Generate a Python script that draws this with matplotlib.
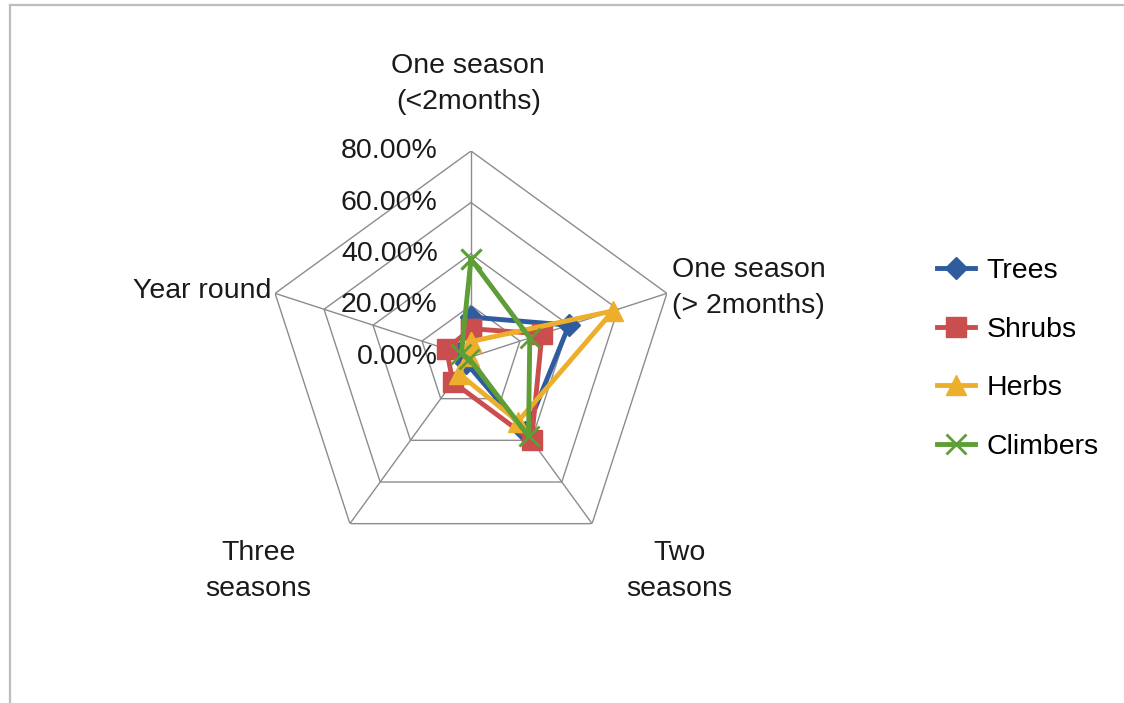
import numpy as np
import matplotlib
matplotlib.use("Agg")
import matplotlib.pyplot as plt
from matplotlib.lines import Line2D

plt.rcParams['font.family'] = ['Liberation Sans', 'DejaVu Sans']

# Flowering duration categories (clockwise from the top)
categories = ["One season\n(<2months)", "One season\n(> 2months)", "Two\nseasons",
              "Three\nseasons", "Year round"]

# Share of species in each duration class (%)
trees = [15.5, 40.0, 36.0, 3.0, 5.0]
shrubs = [11.0, 29.0, 40.0, 12.0, 10.0]
herbs = [6.0, 58.0, 31.0, 8.0, 1.0]
climbers = [38.0, 24.0, 38.0, 1.0, 4.0]

series_names = ["Trees", "Shrubs", "Herbs", "Climbers"]
ring_values = [0, 20, 40, 60, 80]

W, H = 1124, 703
fig = plt.figure(figsize=(W / 100, H / 100), dpi=100)
fig.patch.set_facecolor("white")

# light frame along the top and left edges
fig.add_artist(Line2D([10 / W, 10 / W], [0, 1 - 5 / H], transform=fig.transFigure,
                      color="#BDBDBD", lw=1.6))
fig.add_artist(Line2D([10 / W, 1], [1 - 5 / H, 1 - 5 / H], transform=fig.transFigure,
                      color="#BDBDBD", lw=1.6))

cx, cy, R = 471, 357, 206
ax = fig.add_axes([(cx - R) / W, (H - cy - R) / H, 2 * R / W, 2 * R / H], polar=True)
ax.set_theta_zero_location("N")
ax.set_theta_direction(-1)
ax.set_ylim(0, 80)
ax.grid(False)
ax.spines["polar"].set_visible(False)
ax.set_xticks([])
ax.set_yticks([])
ax.patch.set_alpha(0)

n = len(categories)
theta = np.arange(n) * 2 * np.pi / n
theta_closed = np.append(theta, theta[0])

grid_col = "#8C8C8C"
for v in ring_values[1:]:
    ax.plot(theta_closed, [v] * (n + 1), color=grid_col, lw=1.0, zorder=1)
for t in theta:
    ax.plot([t, t], [0, 80], color=grid_col, lw=1.0, zorder=1)

fs = 20.5
for v in ring_values:
    ax.annotate(f"{v:.2f}%", xy=(0, v), xytext=(-24, 0), textcoords="offset points",
                ha="right", va="center", fontsize=fs, color="#1A1A1A")

label_offsets = [(-2, 48, "center"), (4, 3.5, "left"), (63, -34, "center"),
                 (-66, -34, "center"), (-3, 1.5, "right")]
for t, lab, (dx, dy, ha) in zip(theta, categories, label_offsets):
    ax.annotate(lab, xy=(t, 80), xytext=(dx, dy), textcoords="offset points",
                ha=ha, va="center", fontsize=fs, color="#1A1A1A",
                multialignment="center" if ha == "center" else "left",
                linespacing=1.5)

styles = [
    dict(color="#2F5C9E", marker="D", ms=11, mew=1.0),
    dict(color="#CB4E4E", marker="s", ms=14, mew=1.0),
    dict(color="#EDAF2B", marker="^", ms=15, mew=1.0),
    dict(color="#5E9E36", marker="x", ms=14, mew=2.0),
]
handles = []
for name, vals, st in zip(series_names, [trees, shrubs, herbs, climbers], styles):
    vals_closed = np.append(vals, vals[0])
    line, = ax.plot(theta_closed, vals_closed, color=st["color"], lw=3.5,
                    marker=st["marker"], ms=st["ms"], mew=st["mew"],
                    mec=st["color"], mfc=st["color"], label=name, zorder=3,
                    clip_on=False)
    handles.append(line)

fig.legend(handles=handles, loc="center left",
           bbox_to_anchor=(937 / W, 1 - 359 / H), bbox_transform=fig.transFigure,
           frameon=False, fontsize=fs, handlelength=1.35, handletextpad=0.4,
           labelspacing=1.15, borderpad=0, borderaxespad=0, numpoints=1)

fig.savefig("out.png", dpi=100, facecolor="white")
